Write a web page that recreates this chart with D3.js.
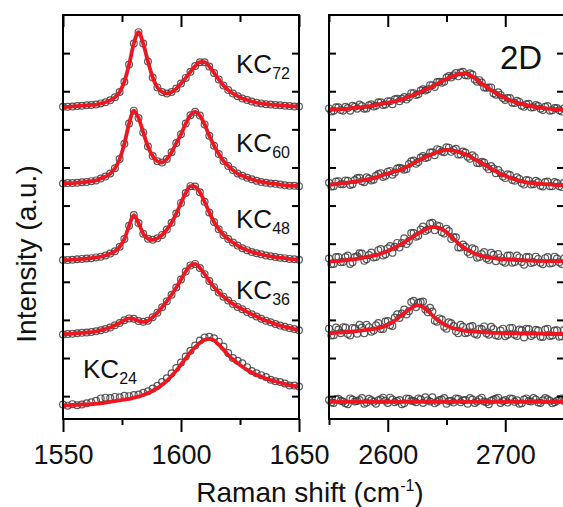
<!DOCTYPE html>
<html><head><meta charset="utf-8">
<script src="https://cdn.jsdelivr.net/npm/d3@7"></script>
<style>body{margin:0;background:#fff}svg{display:block;font-family:"Liberation Sans",Arial,sans-serif}</style>
</head><body><svg id="c" width="563" height="507"></svg>
<script>
// ---------- data ----------
const ramanG = [1550,1552,1554,1556,1558,1560,1562,1564,1566,1568,1570,1572,1574,1576,1578,1580,1582,1584,1586,1588,1590,1592,1594,1596,1598,1600,1602,1604,1606,1608,1610,1612,1614,1616,1618,1620,1622,1624,1626,1628,1630,1632,1634,1636,1638,1640,1642,1644,1646,1648,1650];
const kc72G = [7.59,7.59,7.60,7.61,7.62,7.63,7.64,7.65,7.68,7.71, 7.76,7.84,7.98,8.25,8.70,9.25,9.55,9.25,8.78,8.36, 8.10,7.98,7.94,7.98,8.07,8.20,8.35,8.51,8.66,8.76, 8.76,8.65,8.48,8.31,8.15,8.03,7.94,7.87,7.81,7.77, 7.73,7.70,7.68,7.66,7.65,7.64,7.63,7.62,7.61,7.60,7.60];
const kc60G = [5.58,5.59,5.59,5.60,5.61,5.62,5.64,5.66,5.71,5.76, 5.84,5.98,6.22,6.62,7.15,7.49,7.30,6.92,6.55,6.30, 6.16,6.13,6.22,6.40,6.64,6.87,7.15,7.37,7.46,7.36, 7.13,6.83,6.57,6.35,6.17,6.04,5.93,5.84,5.78,5.73, 5.69,5.65,5.62,5.60,5.58,5.57,5.55,5.53,5.52,5.52,5.51];
const kc48G = [3.57,3.57,3.58,3.59,3.60,3.61,3.62,3.64,3.66,3.69, 3.74,3.80,3.92,4.12,4.47,4.75,4.54,4.26,4.13,4.10, 4.14,4.23,4.37,4.55,4.79,5.07,5.33,5.51,5.50,5.35, 5.10,4.82,4.57,4.38,4.23,4.12,4.03,3.95,3.88,3.83, 3.78,3.75,3.72,3.69,3.67,3.65,3.63,3.62,3.60,3.59,3.58];
const kc36G = [1.62,1.63,1.64,1.65,1.66,1.67,1.68,1.70,1.73,1.76, 1.80,1.86,1.92,1.99,2.04,2.03,1.97,1.95,1.98,2.07, 2.19,2.33,2.49,2.66,2.85,3.06,3.27,3.43,3.47,3.36, 3.20,3.02,2.86,2.72,2.61,2.51,2.42,2.34,2.28,2.21, 2.15,2.09,2.03,1.98,1.94,1.89,1.85,1.82,1.79,1.76,1.73];
const kc24G = [-0.24,-0.24,-0.23,-0.23,-0.22,-0.22,-0.21,-0.20,-0.19,-0.17, -0.15,-0.13,-0.11,-0.09,-0.07,-0.04,-0.01,0.03,0.08,0.14, 0.21,0.30,0.40,0.53,0.67,0.83,0.99,1.15,1.29,1.40, 1.47,1.50,1.46,1.35,1.22,1.08,0.96,0.86,0.77,0.69, 0.62,0.56,0.51,0.46,0.42,0.39,0.35,0.32,0.29,0.27,0.24];
const kc24GObs = [-0.22,-0.25,-0.21,-0.24,-0.22,-0.19,-0.16,-0.12,-0.06,-0.04, -0.05,-0.02,-0.03,0.01,0.00,0.03,0.04,0.09,0.13,0.20, 0.27,0.37,0.47,0.60,0.74,0.88,1.04,1.19,1.33,1.46, 1.54,1.56,1.52,1.43,1.30,1.13,1.00,0.93,0.86,0.76, 0.66,0.60,0.55,0.50,0.43,0.39,0.37,0.33,0.28,0.28,0.25];

const ramanD = [2550,2555,2560,2565,2570,2575,2580,2585,2590,2595,2600,2605,2610,2615,2620,2625,2630,2635,2640,2645,2650,2655,2660,2665,2670,2675,2680,2685,2690,2695,2700,2705,2710,2715,2720,2725,2730,2735,2740,2745,2750];
const kc72D = [7.51,7.52,7.53,7.54,7.56,7.57,7.59,7.61,7.64,7.67, 7.70,7.73,7.77,7.82,7.88,7.94,8.01,8.08,8.16,8.24, 8.32,8.39,8.45,8.47,8.42,8.32,8.20,8.09,7.99,7.90, 7.82,7.75,7.70,7.66,7.62,7.59,7.57,7.55,7.53,7.52, 7.51];
const kc60D = [5.54,5.56,5.58,5.60,5.62,5.64,5.67,5.70,5.74,5.79, 5.84,5.89,5.93,6.00,6.08,6.16,6.24,6.31,6.38,6.43, 6.46,6.45,6.41,6.36,6.29,6.20,6.11,6.02,5.93,5.85, 5.78,5.72,5.67,5.63,5.60,5.58,5.57,5.56,5.55,5.54, 5.54];
const kc48D = [3.53,3.54,3.55,3.57,3.59,3.61,3.64,3.67,3.70,3.75, 3.81,3.88,3.96,4.06,4.15,4.25,4.34,4.41,4.44,4.40, 4.30,4.16,4.01,3.89,3.80,3.73,3.68,3.64,3.62,3.60, 3.59,3.58,3.57,3.56,3.56,3.55,3.55,3.54,3.54,3.54, 3.54];
const kc36D = [1.65,1.66,1.67,1.68,1.69,1.71,1.73,1.75,1.77,1.81, 1.87,1.96,2.08,2.20,2.31,2.38,2.34,2.21,2.06,1.94, 1.85,1.79,1.75,1.72,1.70,1.69,1.68,1.67,1.66,1.66, 1.65,1.65,1.65,1.64,1.64,1.64,1.64,1.63,1.63,1.63, 1.63];
const kc24D = [-0.15,-0.15,-0.15,-0.15,-0.15,-0.15,-0.15,-0.15,-0.15,-0.15, -0.15,-0.15,-0.15,-0.15,-0.15,-0.15,-0.15,-0.15,-0.15,-0.15, -0.15,-0.15,-0.15,-0.15,-0.15,-0.15,-0.15,-0.15,-0.15,-0.15, -0.15,-0.15,-0.15,-0.15,-0.15,-0.15,-0.15,-0.15,-0.15,-0.15, -0.15];

// measured points, 2D band (two interleaved sampling grids)
const ramanDObs = [2550,2554,2558,2562,2566,2570,2574,2578,2582,2586,2590,2594,2598,2602,2606,2610,2614,2618,2622,2626,2630,2634,2638,2642,2646,2650,2654,2658,2662,2666,2670,2674,2678,2682,2686,2690,2694,2698,2702,2706,2710,2714,2718,2722,2726,2730,2734,2738,2742,2746,2750];
const kc72DObs = [7.55,7.49,7.58,7.49,7.56,7.62,7.54,7.61,7.55,7.66, 7.62,7.71,7.65,7.74,7.79,7.74,7.85,7.84,7.95,7.92, 8.05,8.05,8.16,8.24,8.22,8.36,8.36,8.48,8.49,8.42, 8.47,8.31,8.29,8.10,8.10,7.95,7.97,7.82,7.82,7.70, 7.75,7.62,7.66,7.57,7.64,7.54,7.59,7.49,7.56,7.50, 7.55];
const kc60DObs = [5.60,5.51,5.64,5.56,5.65,5.56,5.72,5.64,5.74,5.66, 5.78,5.85,5.78,5.91,5.87,5.99,5.94,6.09,6.18,6.14, 6.30,6.27,6.40,6.48,6.42,6.53,6.41,6.49,6.34,6.39, 6.23,6.27,6.11,6.13,5.95,5.97,5.93,5.76,5.82,5.67, 5.74,5.59,5.67,5.55,5.65,5.52,5.62,5.51,5.62,5.51, 5.60];
const kc48DObs = [3.61,3.47,3.65,3.52,3.69,3.51,3.67,3.74,3.59,3.77, 3.65,3.86,3.72,3.94,3.92,3.90,4.14,4.07,4.28,4.21, 4.45,4.37,4.55,4.48,4.30,4.39,4.12,4.17,3.90,3.92, 3.72,3.85,3.65,3.78,3.57,3.71,3.73,3.53,3.69,3.50, 3.69,3.52,3.65,3.49,3.66,3.50,3.62,3.48,3.66,3.51, 3.61];
const kc36DObs = [1.77,1.60,1.75,1.81,1.63,1.79,1.64,1.80,1.87,1.69, 1.86,1.76,1.96,1.86,2.06,2.05,2.27,2.23,2.50,2.45, 2.48,2.20,2.22,1.95,2.01,1.77,1.91,1.70,1.87,1.65, 1.82,1.64,1.77,1.83,1.61,1.76,1.58,1.77,1.61,1.79, 1.58,1.73,1.77,1.58,1.74,1.56,1.75,1.58,1.72,1.56, 1.74];
const kc24DObs = [-0.10,-0.18,-0.07,-0.14,-0.21,-0.09,-0.13,-0.05,-0.17,-0.11, -0.20,-0.08,-0.12,-0.04,-0.16,-0.10,-0.19,-0.07,-0.13,-0.06, -0.18,-0.11,-0.03,-0.15,-0.09,-0.20,-0.12,-0.06,-0.16,-0.10, -0.05,-0.18,-0.08,-0.14,-0.21,-0.09,-0.04,-0.13,-0.17,-0.07, -0.11,-0.19,-0.06,-0.14,-0.09,-0.18,-0.05,-0.12,-0.16,-0.08, -0.13];

const ramanDObs2 = [2552,2556,2560,2564,2568,2572,2576,2580,2584,2588,2592,2596,2600,2604,2608,2612,2616,2620,2624,2628,2632,2636,2640,2644,2648,2652,2656,2660,2664,2668,2672,2676,2680,2684,2688,2692,2696,2700,2704,2708,2712,2716,2720,2724,2728,2732,2736,2740,2744,2748];
const kc72DObs2 = [7.47,7.58,7.51,7.59,7.49,7.59,7.65,7.54,7.63,7.60, 7.71,7.64,7.74,7.66,7.80,7.80,7.78,7.95,7.90,8.02, 8.02,8.16,8.11,8.25,8.25,8.40,8.42,8.39,8.51,8.41, 8.44,8.25,8.23,8.09,8.10,7.91,7.90,7.77,7.82,7.69, 7.72,7.59,7.67,7.58,7.61,7.51,7.61,7.50,7.56,7.47];
const kc60DObs2 = [5.50,5.63,5.56,5.66,5.54,5.67,5.73,5.61,5.71,5.68, 5.83,5.75,5.89,5.81,5.97,5.97,5.96,6.16,6.10,6.26, 6.25,6.39,6.32,6.46,6.40,6.52,6.46,6.34,6.42,6.28, 6.32,6.12,6.15,6.02,6.04,5.85,5.85,5.72,5.80,5.65, 5.70,5.55,5.66,5.56,5.61,5.50,5.63,5.51,5.59,5.49];
const kc48DObs2 = [3.46,3.65,3.51,3.65,3.47,3.65,3.75,3.55,3.70,3.64, 3.83,3.69,3.88,3.76,4.02,4.02,3.99,4.28,4.18,4.37, 4.33,4.53,4.35,4.46,4.27,4.33,4.17,3.90,3.98,3.78, 3.88,3.63,3.73,3.61,3.76,3.54,3.64,3.50,3.69,3.52, 3.64,3.45,3.65,3.51,3.60,3.46,3.65,3.49,3.61,3.47];
const kc36DObs2 = [1.59,1.80,1.65,1.80,1.59,1.78,1.87,1.65,1.81,1.72, 1.92,1.76,1.97,1.84,2.15,2.17,2.14,2.47,2.33,2.47, 2.27,2.32,1.98,2.04,1.82,1.94,1.84,1.65,1.82,1.67, 1.84,1.61,1.76,1.65,1.82,1.60,1.72,1.57,1.79,1.61, 1.75,1.54,1.76,1.62,1.72,1.55,1.77,1.59,1.73,1.57];
const kc24DObs2 = [-0.17,-0.08,-0.12,-0.19,-0.06,-0.14,-0.10,-0.20,-0.07,-0.15, -0.11,-0.04,-0.18,-0.09,-0.13,-0.21,-0.06,-0.12,-0.16,-0.08, -0.03,-0.14,-0.19,-0.10,-0.05,-0.13,-0.17,-0.07,-0.11,-0.20, -0.09,-0.14,-0.04,-0.16,-0.12,-0.07,-0.18,-0.10,-0.06,-0.15, -0.20,-0.09,-0.13,-0.05,-0.17,-0.11,-0.08,-0.19,-0.12,-0.06];

const sampleNames = ["72","60","48","36","24"];
const gMajor = [1550,1600,1650], gMinor = [1575,1625];
const dMajor = [2600,2700], dMinor = [2550,2650,2750];
const yTicks = [0,1,2,3,4,5,6,7,8,9];

// ---------- drawing ----------
const svg = d3.select("#c");
const y = d3.scaleLinear().domain([-0.6,10]).range([419,15]);
const xG = d3.scaleLinear().domain([1550,1650]).range([63,299]);
const xD = d3.scaleLinear().domain([2550,2750]).range([329,564]);
const RED = "#ee1620", CIRC = "#3c3c3c";

function zip(xs, ys){ return xs.map((v,i)=>[v, ys[i]]); }

function drawPanel(x, fitX, fits, obsSets, majors, minors){
  const g = svg.append("g");
  obsSets.forEach(([ox, arr])=>{
    g.append("g").selectAll("circle").data(zip(ox, arr)).join("circle")
      .attr("cx", d=>x(d[0])).attr("cy", d=>y(d[1])).attr("r", 3.4)
      .attr("fill","none").attr("stroke", CIRC).attr("stroke-width", 1.2).attr("opacity",0.85);
  });
  const line = d3.line().x(d=>x(d[0])).y(d=>y(d[1])).curve(d3.curveMonotoneX);
  fits.forEach(arr=>{
    g.append("path").datum(zip(fitX, arr)).attr("d", line)
      .attr("fill","none").attr("stroke", RED).attr("stroke-width", 3.8).attr("stroke-linejoin","round");
  });
  const [x0,x1] = x.range();
  const ax = [
    [d3.axisBottom(x).tickValues(majors).tickSize(13).tickPadding(13).tickFormat(d3.format("d")), `translate(0,419)`],
    [d3.axisBottom(x).tickValues(minors).tickSize(6).tickFormat(""), `translate(0,419)`],
    [d3.axisTop(x).tickValues(majors).tickSize(-12).tickFormat(""), `translate(0,15)`],
    [d3.axisTop(x).tickValues(minors).tickSize(-7).tickFormat(""), `translate(0,15)`],
    [d3.axisLeft(y).tickValues(yTicks).tickSize(-7).tickFormat(""), `translate(${x0},0)`],
    [d3.axisRight(y).tickValues(yTicks).tickSize(-7).tickFormat(""), `translate(${x1},0)`]
  ];
  ax.forEach(([a,t])=>{
    const ag = g.append("g").attr("transform", t).call(a);
    ag.select(".domain").remove();
    ag.selectAll("line").attr("stroke","#000").attr("stroke-width",2);
    ag.selectAll("text").attr("font-size",27).attr("fill","#111")
      .attr("font-family",'"Liberation Sans",Arial,sans-serif');
  });
  g.append("rect").attr("x",x0).attr("y",15).attr("width",x1-x0).attr("height",404)
    .attr("fill","none").attr("stroke","#000").attr("stroke-width",2);
}

drawPanel(xG, ramanG, [kc72G,kc60G,kc48G,kc36G,kc24G],
  [[ramanG,kc72G],[ramanG,kc60G],[ramanG,kc48G],[ramanG,kc36G],[ramanG,kc24GObs]], gMajor, gMinor);
drawPanel(xD, ramanD, [kc72D,kc60D,kc48D,kc36D,kc24D],
  [[ramanDObs,kc72DObs],[ramanDObs2,kc72DObs2],[ramanDObs,kc60DObs],[ramanDObs2,kc60DObs2],
   [ramanDObs,kc48DObs],[ramanDObs2,kc48DObs2],[ramanDObs,kc36DObs],[ramanDObs2,kc36DObs2],
   [ramanDObs,kc24DObs],[ramanDObs2,kc24DObs2]], dMajor, dMinor);

// sample labels
const labelPos = [[236,73],[236,152],[236,228],[236,299],[83,378]];
sampleNames.forEach((s,i)=>{
  const t = svg.append("text").attr("x",labelPos[i][0]).attr("y",labelPos[i][1]).attr("font-size",26).attr("fill","#111");
  t.append("tspan").text("KC");
  t.append("tspan").attr("font-size",16).attr("dy",6).text(s);
});
svg.append("text").attr("x",500).attr("y",69).attr("font-size",33).attr("fill","#111").text("2D");

// axis titles
const xt = svg.append("text").attr("x",310).attr("y",502).attr("text-anchor","middle").attr("font-size",28).attr("fill","#111");
xt.append("tspan").text("Raman shift (cm");
xt.append("tspan").attr("font-size",16).attr("dy",-11).text("-1");
xt.append("tspan").attr("dy",11).text(")");
svg.append("text").attr("transform","translate(36,254) rotate(-90)").attr("text-anchor","middle")
  .attr("font-size",28).attr("fill","#111").text("Intensity (a.u.)");
</script></body></html>
